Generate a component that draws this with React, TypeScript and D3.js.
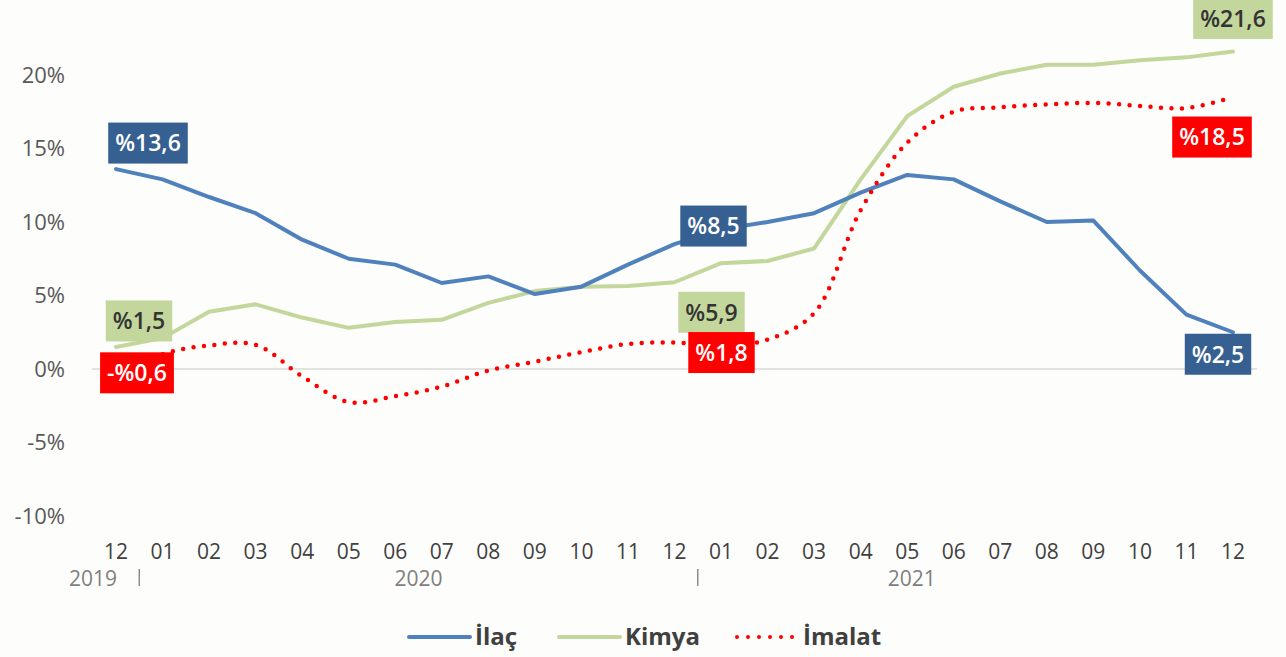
import React, { useEffect, useRef } from 'react';
import * as d3 from 'd3';

// months from 2019-12 to 2021-12
const months = ['12', '01', '02', '03', '04', '05', '06', '07', '08', '09', '10', '11', '12',
  '01', '02', '03', '04', '05', '06', '07', '08', '09', '10', '11', '12'];

const ilac = [13.6, 12.9, 11.7, 10.6, 8.8, 7.5, 7.1, 5.85, 6.3, 5.1, 5.6, 7.1, 8.5,
  9.5, 10.0, 10.6, 12.0, 13.2, 12.9, 11.4, 10.0, 10.1, 6.7, 3.7, 2.5];
const kimya = [1.5, 2.1, 3.9, 4.4, 3.5, 2.8, 3.2, 3.35, 4.5, 5.3, 5.6, 5.65, 5.9,
  7.2, 7.35, 8.2, 12.9, 17.2, 19.2, 20.1, 20.7, 20.7, 21.0, 21.2, 21.6];
const imalat = [-0.6, 1.0, 1.6, 1.65, -0.5, -2.25, -1.85, -1.2, -0.1, 0.5, 1.15, 1.7, 1.8,
  1.6, 2.0, 3.8, 10.8, 15.4, 17.5, 17.8, 18.0, 18.1, 17.9, 17.75, 18.5];

const yTicks = [-10, -5, 0, 5, 10, 15, 20];
const years = ['2019', '2020', '2021'];

const App = () => {
  const svgRef = useRef<SVGSVGElement>(null);

  useEffect(() => {
    const svg = d3.select(svgRef.current);
    svg.selectAll('*').remove();

    const font = '"Open Sans", sans-serif';
    const idx = months.map((_, i) => i);
    const x = d3.scalePoint<number>().domain(idx).range([116, 1233]);
    const step = x.step();
    const y = d3.scaleLinear().domain([-10, 20]).range([516, 75]);

    svg.append('rect').attr('width', 1286).attr('height', 657).attr('fill', '#fdfdfb');

    // zero line
    svg.append('line')
      .attr('x1', 92).attr('x2', 1257)
      .attr('y1', y(0)).attr('y2', y(0))
      .attr('stroke', '#d9d9d9').attr('stroke-width', 1.5);

    // y axis labels
    svg.append('g').selectAll('text').data(yTicks).enter().append('text')
      .attr('x', 65).attr('y', d => y(d)).attr('dy', '0.35em')
      .attr('text-anchor', 'end')
      .style('font-family', font).style('font-size', '22px').style('fill', '#595959')
      .text(d => `${d}%`);

    // month labels
    svg.append('g').selectAll('text').data(idx).enter().append('text')
      .attr('x', d => x(d)!).attr('y', 559)
      .attr('text-anchor', 'middle')
      .style('font-family', font).style('font-size', '21px').style('fill', '#404040')
      .text(d => months[d]);

    // year labels and separators
    const yearX = [x(0)! - 23, x(0)! + step * 6.5, x(0)! + step * 17.1];
    svg.append('g').selectAll('text').data(years).enter().append('text')
      .attr('x', (_, i) => yearX[i]).attr('y', 586)
      .attr('text-anchor', 'middle')
      .style('font-family', font).style('font-size', '21px').style('fill', '#7f7f7f')
      .text(d => d);
    [0.5, 12.5].forEach(p => {
      const sx = x(0)! + step * p;
      svg.append('line')
        .attr('x1', sx).attr('x2', sx).attr('y1', 569).attr('y2', 586)
        .attr('stroke', '#8c8c8c').attr('stroke-width', 1.5);
    });

    const line = d3.line<number>().x((_, i) => x(i)!).y(d => y(d));
    const smooth = d3.line<number>().x((_, i) => x(i)!).y(d => y(d)).curve(d3.curveCatmullRom.alpha(0.5));

    svg.append('path').datum(kimya).attr('d', line)
      .attr('fill', 'none').attr('stroke', '#c3d69b').attr('stroke-width', 4)
      .attr('stroke-linejoin', 'round').attr('stroke-linecap', 'round');
    svg.append('path').datum(ilac).attr('d', line)
      .attr('fill', 'none').attr('stroke', '#4f81bd').attr('stroke-width', 4)
      .attr('stroke-linejoin', 'round').attr('stroke-linecap', 'round');
    svg.append('path').datum(imalat).attr('d', smooth)
      .attr('fill', 'none').attr('stroke', '#ff0000').attr('stroke-width', 4.5)
      .attr('stroke-dasharray', '0 10.5').attr('stroke-linecap', 'round');

    // data labels
    const fmt = (v: number) => (v < 0 ? '-%' : '%') + Math.abs(v).toFixed(1).replace('.', ',');
    const labels = [
      { data: ilac, i: 0, dx: 32, dy: -26, bg: '#376092', fg: '#ffffff' },
      { data: kimya, i: 0, dx: 23, dy: -26, bg: '#c3d69b', fg: '#333333' },
      { data: imalat, i: 0, dx: 21, dy: -5, bg: '#ff0000', fg: '#ffffff' },
      { data: ilac, i: 12, dx: 39, dy: -18, bg: '#376092', fg: '#ffffff' },
      { data: kimya, i: 12, dx: 37, dy: 30, bg: '#c3d69b', fg: '#333333' },
      { data: imalat, i: 12, dx: 47, dy: 10, bg: '#ff0000', fg: '#ffffff' },
      { data: kimya, i: 24, dx: 0, dy: -33, bg: '#c3d69b', fg: '#333333' },
      { data: imalat, i: 24, dx: -21, dy: 40, bg: '#ff0000', fg: '#ffffff' },
      { data: ilac, i: 24, dx: -15, dy: 22, bg: '#376092', fg: '#ffffff' },
    ];
    labels.forEach(l => {
      const cx = x(l.i)! + l.dx;
      const cy = y(l.data[l.i]) + l.dy;
      const g = svg.append('g');
      const rect = g.append('rect').attr('fill', l.bg);
      const t = g.append('text')
        .attr('x', cx).attr('y', cy).attr('dy', '0.36em')
        .attr('text-anchor', 'middle')
        .style('font-family', font).style('font-size', '23px').style('font-weight', 600)
        .style('fill', l.fg)
        .text(fmt(l.data[l.i]));
      const w = (t.node() as SVGTextElement).getComputedTextLength() + 14;
      rect.attr('x', cx - w / 2).attr('y', cy - 20.5).attr('width', w).attr('height', 41);
    });

    // legend
    const legend = [
      { name: 'İlaç', color: '#4f81bd', x: 409, dotted: false },
      { name: 'Kimya', color: '#c3d69b', x: 559, dotted: false },
      { name: 'İmalat', color: '#ff0000', x: 737, dotted: true },
    ];
    legend.forEach(l => {
      const ly = 637;
      svg.append('line')
        .attr('x1', l.x).attr('x2', l.x + 61).attr('y1', ly).attr('y2', ly)
        .attr('stroke', l.color).attr('stroke-width', 4)
        .attr('stroke-linecap', 'round')
        .attr('stroke-dasharray', l.dotted ? '0 11' : null);
      svg.append('text')
        .attr('x', l.x + 66).attr('y', ly).attr('dy', '0.35em')
        .style('font-family', font).style('font-size', '24px').style('font-weight', 700)
        .style('fill', '#404040')
        .text(l.name);
    });
  }, []);

  return (
    <div style={{ position: 'fixed', left: 0, top: 0 }}>
      <svg ref={svgRef} width={1286} height={657} style={{ display: 'block' }}></svg>
    </div>
  );
};

export default App;
